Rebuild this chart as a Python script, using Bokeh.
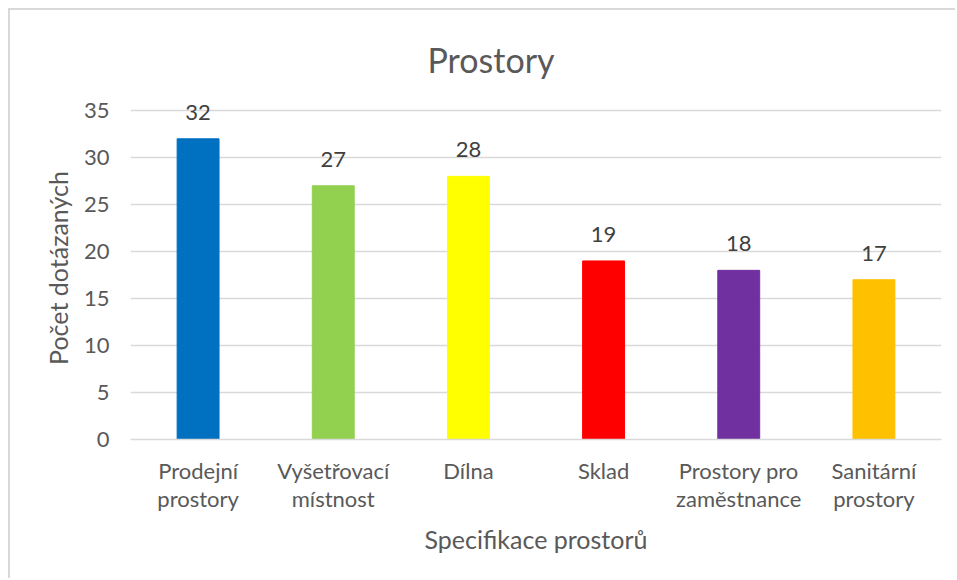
from bokeh.plotting import figure
from bokeh.models import ColumnDataSource, Range1d, FixedTicker, LabelSet, LinearAxis
from bokeh.core.properties import value
from bokeh.embed import file_html
from bokeh.resources import INLINE

categories = ["Prodejní prostory", "Vyšetřovací místnost", "Dílna", "Sklad",
              "Prostory pro zaměstnance", "Sanitární prostory"]
label_line1 = ["Prodejní", "Vyšetřovací", "Dílna", "Sklad", "Prostory pro", "Sanitární"]
label_line2 = ["prostory", "místnost", "", "", "zaměstnance", "prostory"]
values = [32, 27, 28, 19, 18, 17]
colors = ["#0070C0", "#92D050", "#FFFF00", "#FF0000", "#7030A0", "#FFC000"]
y_ticks = [0, 5, 10, 15, 20, 25, 30, 35]

FONT = "Lato"
TXT = "#595959"

# category slot centres (index based)
pos = [i + 0.5 for i in range(len(categories))]

source = ColumnDataSource(dict(x=pos, cat=categories, val=values, color=colors,
                               lbl=[str(v) for v in values]))

p = figure(width=947, height=570, x_range=Range1d(0, len(categories)),
           y_range=Range1d(0, 36.5), output_backend="svg", toolbar_location=None,
           min_border_left=120, min_border_right=16, min_border_top=86,
           min_border_bottom=141, x_axis_location=None)
p.styles = {"border-left": "2px solid #d9d9d9", "border-top": "2px solid #d9d9d9",
            "margin-left": "8px", "margin-top": "8px"}
p.outline_line_color = None
p.background_fill_color = "white"
p.border_fill_color = "white"

p.title.text = "Prostory"
p.title.align = "left"
p.title.offset = 297
p.title.standoff = 34
p.title.text_font = FONT
p.title.text_font_size = "34px"
p.title.text_font_style = "normal"
p.title.text_color = TXT

p.vbar(x="x", top="val", width=0.31, color="color", source=source)

p.add_layout(LabelSet(x="x", y="val", text="lbl", source=source,
                      text_align="center", text_baseline="bottom", y_offset=19,
                      text_font=value(FONT), text_font_size="22px", text_color="#404040"))

p.xgrid.grid_line_color = None
p.ygrid.grid_line_color = "#d9d9d9"
p.ygrid.grid_line_width = 1.3

p.yaxis.ticker = FixedTicker(ticks=y_ticks)
p.yaxis.axis_line_color = None
p.yaxis.major_tick_line_color = None
p.yaxis.minor_tick_line_color = None
p.yaxis.major_label_text_font = FONT
p.yaxis.major_label_text_font_size = "22px"
p.yaxis.major_label_text_color = TXT
p.yaxis.major_label_standoff = 15
p.yaxis.axis_label = "Počet dotázaných"
p.yaxis.axis_label_text_font = FONT
p.yaxis.axis_label_text_font_size = "25px"
p.yaxis.axis_label_text_font_style = "normal"
p.yaxis.axis_label_text_color = TXT
p.yaxis.axis_label_standoff = 8


def make_xaxis(labels, standoff, line_color):
    ax = LinearAxis()
    ax.ticker = FixedTicker(ticks=pos)
    ax.axis_line_color = line_color
    ax.axis_line_width = 1.3
    ax.major_tick_line_color = None
    ax.minor_tick_line_color = None
    ax.major_label_overrides = {t: l for t, l in zip(pos, labels)}
    ax.major_label_text_font = FONT
    ax.major_label_text_font_size = "22px"
    ax.major_label_text_color = TXT
    ax.major_label_standoff = standoff
    return ax


ax1 = make_xaxis(label_line1, 11, "#d9d9d9")
ax2 = make_xaxis(label_line2, -8, None)
ax2.axis_label = "Specifikace prostorů"
ax2.axis_label_text_font = FONT
ax2.axis_label_text_font_size = "25px"
ax2.axis_label_text_font_style = "normal"
ax2.axis_label_text_color = TXT
ax2.axis_label_standoff = 9
p.add_layout(ax1, "below")
p.add_layout(ax2, "below")

open("out.html", "w").write(file_html(p, INLINE))
